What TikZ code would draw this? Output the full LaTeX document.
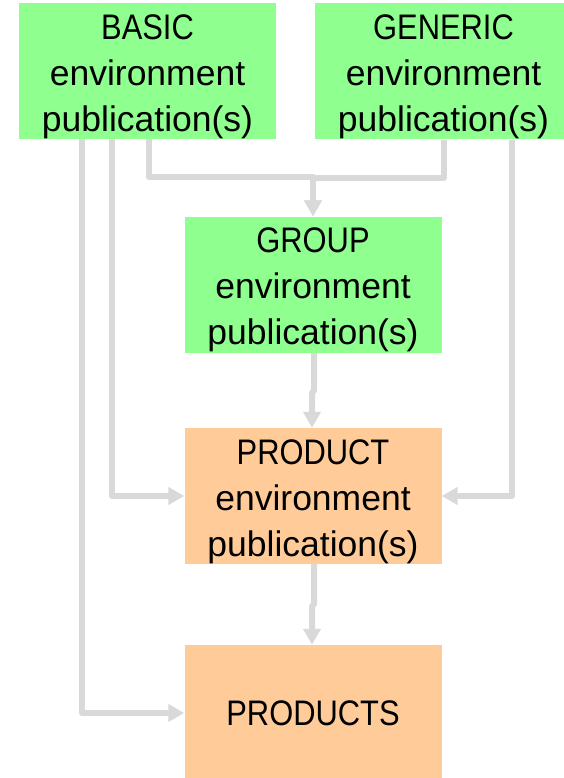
\documentclass[tikz,border=0pt]{standalone}
\usepackage{fontspec}
\setmainfont{Liberation Sans}
\usepackage{tikz}
\usetikzlibrary{calc,arrows.meta,positioning,backgrounds}
\pgfdeclarelayer{nodelayer}
\pgfdeclarelayer{edgelayer}
\pgfsetlayers{edgelayer,nodelayer,main}
\definecolor{envgreen}{HTML}{8FFF8F}
\definecolor{prodorange}{HTML}{FFCC99}
\definecolor{linkgray}{HTML}{D9D9D9}
\newcommand{\capword}[1]{\scalebox{0.87}[1]{#1}}
\newcommand{\envhead}[1]{\rule{0pt}{36pt}\capword{#1}}

\tikzset{
    envbox/.style={fill=#1, minimum width=257pt, minimum height=136pt,
        inner sep=0pt, align=center, font=\fontsize{35.5}{46}\selectfont},
    link/.style={draw=linkgray, line width=6pt, line join=round,
        -{Triangle[width=17pt,length=16pt]}}
}

\begin{document}
\begin{tikzpicture}[x=1pt,y=-1pt]
    \useasboundingbox (0,0) rectangle (564,778);
    \begin{pgfonlayer}{nodelayer}
            \node [envbox=envgreen] (basic) at (147.5, 71) {\envhead{BASIC}\\environment\\publication(s)};
            \node [envbox=envgreen] (generic) at (443.5, 71.5) {\envhead{GENERIC}\\environment\\publication(s)};
            \node [envbox=envgreen] (group) at (313, 284.5) {\envhead{GROUP}\\environment\\publication(s)};
            \node [envbox=prodorange] (product) at (313, 496) {\envhead{PRODUCT}\\environment\\publication(s)};
            \node [envbox=prodorange] (products) at (313, 713) {\capword{PRODUCTS}};
    \end{pgfonlayer}
    \begin{pgfonlayer}{edgelayer}
            \draw [link] ([xshift=1.5pt]basic.south) -- ++(0,38) -| (group.north);
            \draw [link] ([xshift=0.5pt]generic.south) -- ++(0,38) -| (group.north);
            \draw [link] ([xshift=-35.5pt]basic.south) |- (product.west);
            \draw [link] ([xshift=68.5pt]generic.south) |- (product.east);
            \draw [link] ([xshift=-65.5pt]basic.south) |- (products.west);
            \draw [link] ([xshift=1pt]group.south) -- ++(0,38) -- ++(-2,2) -- ([xshift=-1pt]product.north);
            \draw [link] ([xshift=1pt]product.south) -- ++(0,40) -- ++(-2,2) -- ([xshift=-1pt]products.north);
    \end{pgfonlayer}
\end{tikzpicture}
\end{document}
